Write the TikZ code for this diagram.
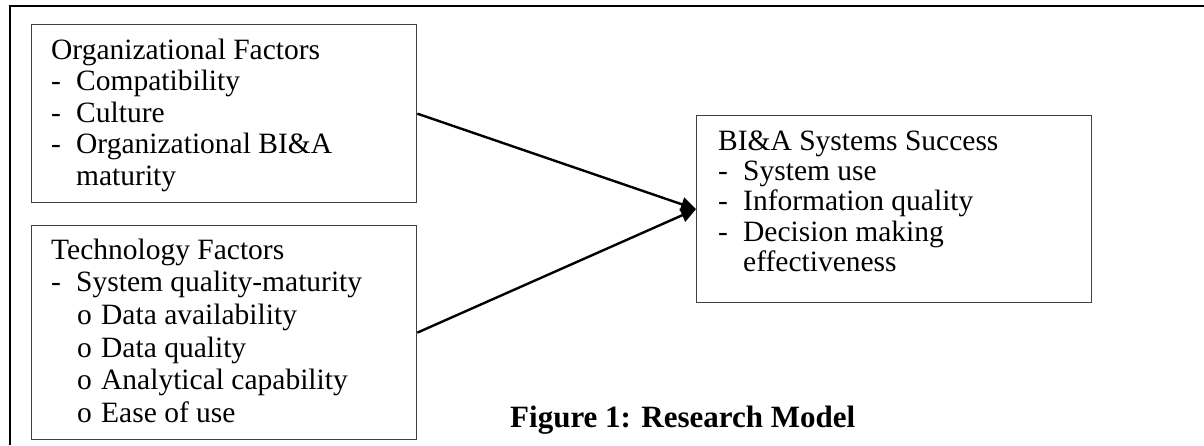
\documentclass[tikz,border=0pt]{standalone}
\usepackage{fontspec}
\setmainfont{Liberation Serif}
\usetikzlibrary{positioning,arrows.meta}

\definecolor{boxGray}{HTML}{404040}

\tikzset{
  factorBox/.style={draw=boxGray, line width=1.3pt, inner sep=0pt, anchor=north west},
  itemText/.style={inner sep=0pt, anchor=north west, align=left, font=\fontsize{29.5}{#1}\selectfont},
  linkArrow/.style={line width=2.4pt, -{Triangle[length=15pt,width=14pt]}}
}
\newcommand{\dashItem}{\makebox[25pt][l]{-}}
\newcommand{\ringItem}{\makebox[24pt][l]{o}}
\newcommand{\firstLine}{\rule{0pt}{22pt}}

\begin{document}
\begin{tikzpicture}[x=1pt, y=-1pt]
  \useasboundingbox (0,0) rectangle (1204,445);
  % outer frame (left and top only)
  \draw[line width=2pt] (10,445) -- (10,6) -- (1204,6);

  % the three boxes
  \node[factorBox, minimum width=385pt, minimum height=178pt] (org) at (31,24) {};
  \node[factorBox, minimum width=385pt, minimum height=214pt] (tech) at (31,225) {};
  \node[factorBox, minimum width=395pt, minimum height=187pt] (succ) at (696,115) {};

  \node[itemText=31.5pt] (orgText) at ([xshift=20pt, yshift=-13pt]org.north west)
    {\firstLine Organizational Factors\\
     \dashItem Compatibility\\
     \dashItem Culture\\
     \dashItem Organizational BI\&A\\
     \hspace*{25pt}maturity};

  \node[itemText=32.6pt] (techText) at ([xshift=20pt, yshift=-12pt]tech.north west)
    {\firstLine Technology Factors\\
     \dashItem System quality-maturity\\
     \hspace*{26pt}\ringItem Data availability\\
     \hspace*{26pt}\ringItem Data quality\\
     \hspace*{26pt}\ringItem Analytical capability\\
     \hspace*{26pt}\ringItem Ease of use};

  \node[itemText=30.3pt] (succText) at ([xshift=22pt, yshift=-13pt]succ.north west)
    {\firstLine BI\&A Systems Success\\
     \dashItem System use\\
     \dashItem Information quality\\
     \dashItem Decision making\\
     \hspace*{25pt}effectiveness};

  % links
  \draw[linkArrow] (org.east) -- (succ.west);
  \draw[linkArrow] (tech.east) -- (succ.west);

  \node[inner sep=0pt, anchor=base west, font=\fontsize{31}{36}\selectfont\bfseries] (caption) at (510,427)
    {Figure 1: Research Model};
\end{tikzpicture}
\end{document}
